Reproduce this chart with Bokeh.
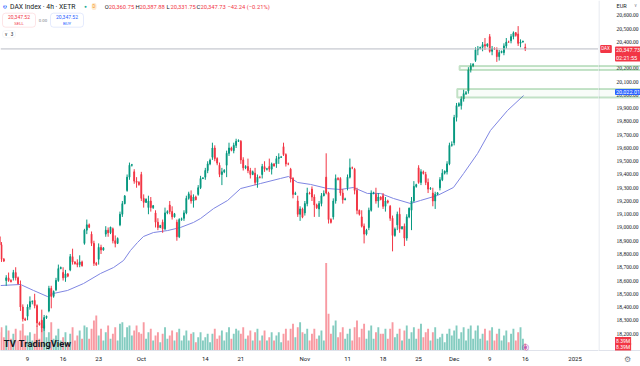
from bokeh.plotting import figure
from bokeh.layouts import row
from bokeh.models import (Range1d, LinearAxis, FixedTicker, Label, BoxAnnotation, Span,
                          ColumnDataSource)
from bokeh.embed import file_html
from bokeh.resources import INLINE

# ---------------- data (DAX Index, 4h bars, XETR) ----------------
# bar 0 = Sep 2 09:00; three 4h bars per trading day; first listed bar = Sep 3
FIRST_BAR = 3
opens = [
    18930, 18870, 18760,  18600, 18620, 18600,  18620, 18660, 18620,  18560, 18400, 18310,
    18330, 18400, 18440,  18450, 18410, 18280,  18300, 18240, 18320,  18370, 18540, 18480,  18530, 18600, 18690,
    18660, 18620, 18650,  18680, 18780, 18740,  18730, 18720, 18740,  18880, 18980, 19020,  18950, 18880, 18730,
    18760, 18850, 18830,  18950, 18980, 18960,  18990, 18900, 18880,  19020, 19100, 19180,  19280, 19380, 19470,
    19420, 19350, 19340,  19400, 19220, 19190,  19150, 19200, 19150,  19110, 19040, 19000,  19040, 18990, 19110,
    19170, 19120, 19080,  19040, 18930, 19060,  19070, 19110, 19220,  19240, 19200, 19230,  19250, 19300, 19370,
    19380, 19430, 19480,  19530, 19600, 19520,  19470, 19400, 19420,  19470, 19560, 19600,  19580, 19620, 19650,
    19650, 19510, 19450,  19460, 19430, 19400,  19410, 19340, 19380,  19400, 19460, 19440,  19460, 19440, 19480,
    19480, 19520, 19530,  19610, 19550, 19480,  19440, 19370, 19250,  19200, 19100, 19140,  19110, 19180, 19260,
    19290, 19230, 19170,  19140, 19180, 19240,  19380, 19260, 19060,  19080, 19200, 19370,  19370, 19260, 19210,
    19300, 19380, 19450,  19440, 19280, 19130,  19080, 19010, 18950,  19000, 19130, 19260,  19250, 19200, 19230,
    19240, 19160, 19200,  19160, 19070, 18940,  19020, 19100, 18990,  19010, 18920, 19080,  19130, 19200, 19310,
    19450, 19340, 19420,  19400, 19340, 19290,  19260, 19200, 19250,  19300, 19360, 19410,  19420, 19480, 19620,
    19640, 19830, 19920,  19920, 19970, 20010,  20030, 20190, 20220,  20260, 20340, 20350,  20360, 20380, 20370,
    20440, 20330, 20350,  20340, 20290, 20320,  20320, 20370, 20400,  20410, 20440, 20470,  20460, 20390, 20400,
    20360.75,
]
highs = [
    18950, 18890, 18770,  18640, 18660, 18610,  18680, 18700, 18630,  18600, 18420, 18320,
    18420, 18480, 18450,  18500, 18420, 18290,  18380, 18340, 18335,  18560, 18560, 18525,  18620, 18720, 18705,
    18700, 18680, 18655,  18800, 18840, 18745,  18760, 18790, 18750,  18990, 19060, 19030,  18970, 18900, 18740,
    18880, 18870, 18850,  19010, 19000, 19005,  19000, 18940, 18925,  19120, 19200, 19245,  19400, 19490, 19480,
    19440, 19380, 19350,  19420, 19250, 19220,  19240, 19230, 19170,  19130, 19070, 19020,  19060, 19150, 19130,
    19200, 19160, 19110,  19060, 19070, 19075,  19130, 19240, 19270,  19280, 19250, 19240,  19320, 19390, 19380,
    19450, 19500, 19520,  19640, 19620, 19530,  19490, 19450, 19440,  19580, 19640, 19610,  19640, 19670, 19665,
    19660, 19530, 19470,  19520, 19450, 19430,  19450, 19400, 19390,  19480, 19500, 19450,  19520, 19490, 19485,
    19540, 19560, 19540,  19640, 19560, 19490,  19450, 19380, 19270,  19240, 19160, 19150,  19200, 19300, 19270,
    19310, 19250, 19180,  19200, 19260, 19280,  19560, 19270, 19070,  19220, 19400, 19380,  19380, 19290, 19225,
    19400, 19520, 19460,  19450, 19300, 19135,  19130, 19030, 18990,  19150, 19280, 19270,  19300, 19260, 19235,
    19260, 19230, 19210,  19170, 19090, 19000,  19120, 19150, 19010,  19030, 19100, 19150,  19230, 19350, 19330,
    19470, 19440, 19430,  19420, 19370, 19305,  19300, 19270, 19265,  19380, 19440, 19430,  19500, 19640, 19650,
    19850, 19940, 19945,  19990, 20040, 20030,  20210, 20240, 20240,  20360, 20370, 20365,  20400, 20430, 20390,
    20460, 20370, 20360,  20360, 20340, 20335,  20390, 20430, 20410,  20460, 20480, 20475,  20520, 20420, 20410,
    20387.88,
]
lows = [
    18850, 18740, 18740,  18560, 18590, 18585,  18600, 18600, 18570,  18370, 18290, 18295,
    18300, 18380, 18420,  18390, 18250, 18260,  18210, 18220, 18310,  18360, 18390, 18470,  18520, 18590, 18685,
    18600, 18590, 18625,  18670, 18720, 18720,  18700, 18700, 18705,  18870, 18950, 18995,  18860, 18710, 18710,
    18720, 18800, 18825,  18930, 18930, 18950,  18880, 18850, 18875,  19010, 19080, 19175,  19270, 19360, 19460,
    19330, 19300, 19315,  19200, 19150, 19185,  19100, 19120, 19140,  19000, 18980, 18995,  18960, 18980, 19100,
    19100, 19060, 19075,  18900, 18920, 19050,  19050, 19100, 19210,  19180, 19150, 19205,  19240, 19290, 19365,
    19360, 19410, 19470,  19510, 19500, 19470,  19380, 19320, 19410,  19380, 19540, 19575,  19560, 19600, 19645,
    19480, 19430, 19440,  19410, 19370, 19395,  19320, 19300, 19370,  19370, 19420, 19430,  19420, 19400, 19460,
    19450, 19480, 19525,  19540, 19460, 19470,  19340, 19220, 19245,  19080, 19050, 19070,  19090, 19160, 19250,
    19200, 19080, 19140,  19080, 19160, 19235,  19250, 19030, 19030,  19060, 19180, 19355,  19240, 19180, 19205,
    19280, 19370, 19440,  19250, 19100, 19090,  19000, 18880, 18940,  18980, 19120, 19250,  19180, 19150, 19205,
    19140, 19120, 19180,  19050, 18820, 18930,  18980, 18960, 18985,  18860, 18900, 19070,  18980, 19190, 19300,
    19330, 19320, 19400,  19320, 19260, 19285,  19160, 19140, 19245,  19280, 19350, 19400,  19400, 19470, 19610,
    19620, 19800, 19910,  19890, 19950, 20000,  20010, 20170, 20210,  20250, 20300, 20345,  20330, 20340, 20360,
    20320, 20300, 20340,  20250, 20260, 20315,  20300, 20350, 20395,  20390, 20420, 20440,  20370, 20360, 20395,
    20331.75,
]
closes = [
    18870, 18760, 18747,  18620, 18600, 18592,  18660, 18620, 18576,  18400, 18310, 18301,
    18400, 18440, 18443,  18410, 18280, 18266,  18240, 18320, 18330,  18540, 18480, 18518,  18600, 18690, 18699,
    18620, 18650, 18633,  18780, 18740, 18727,  18720, 18740, 18711,  18980, 19020, 19002,  18880, 18730, 18720,
    18850, 18830, 18847,  18980, 18960, 19003,  18900, 18880, 18918,  19100, 19180, 19238,  19380, 19470, 19474,
    19350, 19340, 19325,  19220, 19190, 19213,  19200, 19150, 19164,  19040, 19000, 19015,  18990, 19110, 19121,
    19120, 19080, 19104,  18930, 19060, 19066,  19110, 19220, 19254,  19200, 19230, 19210,  19300, 19370, 19374,
    19430, 19480, 19508,  19600, 19520, 19486,  19400, 19420, 19432,  19560, 19600, 19583,  19620, 19650, 19657,
    19510, 19450, 19461,  19430, 19400, 19421,  19340, 19380, 19378,  19460, 19440, 19443,  19440, 19480, 19464,
    19520, 19530, 19532,  19550, 19480, 19479,  19370, 19250, 19258,  19100, 19140, 19078,  19180, 19260, 19255,
    19230, 19170, 19149,  19180, 19240, 19256,  19260, 19060, 19039,  19200, 19370, 19363,  19260, 19210, 19216,
    19380, 19450, 19449,  19280, 19130, 19100,  19010, 18950, 18980,  19130, 19260, 19264,  19200, 19230, 19211,
    19160, 19200, 19190,  19070, 18940, 18988,  19100, 18990, 19005,  18920, 19080, 19146,  19200, 19310, 19323,
    19340, 19420, 19407,  19340, 19290, 19295,  19200, 19250, 19262,  19360, 19410, 19426,  19480, 19620, 19626,
    19830, 19920, 19934,  19970, 20010, 20017,  20190, 20220, 20233,  20340, 20350, 20359,  20380, 20370, 20385,
    20330, 20350, 20346,  20290, 20320, 20330,  20370, 20400, 20399,  20440, 20470, 20450,  20390, 20400, 20406,
    20347.73,
]
volumes_m = [
    22, 28, 16,  30, 24, 14,  20, 26, 12,  24, 32, 18,
    18, 22, 12,  20, 30, 14,  26, 30, 16,  22, 34, 14,  18, 26, 12,
    16, 22, 10,  20, 28, 12,  18, 24, 14,  30, 28, 14,  26, 36, 42,
    18, 26, 12,  22, 30, 14,  20, 28, 12,  32, 34, 16,  28, 30, 18,
    24, 30, 22,  20, 34, 14,  22, 26, 12,  18, 22, 10,  20, 28, 14,
    18, 24, 12,  22, 26, 12,  18, 24, 12,  20, 22, 10,  16, 22, 12,
    16, 20, 10,  20, 26, 14,  18, 24, 12,  22, 28, 14,  20, 26, 24,
    20, 28, 14,  18, 24, 12,  22, 26, 12,  18, 24, 12,  16, 22, 12,
    18, 22, 10,  20, 26, 12,  26, 32, 16,  28, 34, 22,  20, 26, 12,
    20, 26, 14,  18, 24, 12,  105, 44, 20,  30, 36, 16,  22, 28, 14,
    20, 26, 12,  28, 36, 16,  26, 32, 14,  24, 30, 14,  22, 28, 20,
    20, 26, 14,  26, 34, 16,  20, 26, 12,  24, 30, 14,  22, 28, 14,
    26, 32, 16,  22, 26, 12,  22, 28, 14,  16, 20, 10,  20, 26, 18,
    24, 30, 14,  22, 28, 12,  26, 30, 14,  24, 30, 14,  20, 26, 12,
    24, 28, 12,  20, 26, 12,  18, 24, 10,  20, 26, 12,  22, 28, 14,
    8.39,
]
# moving average: (bar number, value)
ma_bar = [3.6, 12.0, 17.5, 23.4, 25.9, 31.9, 38.6, 45.8, 51.3, 55.5, 58.4, 61.4, 63.9, 68.1,
          74.1, 79.5, 85.0, 88.0, 93.5, 99.4, 104.9, 113.3, 121.7, 125.1, 128.9, 134.4,
          141.6, 147.0, 152.5, 158.4, 163.9, 169.4, 176.6, 180.8, 188.0, 194.7, 199.0,
          204.9, 210.3, 217.5, 224.3]
ma_val = [18562, 18570, 18525, 18479, 18502, 18525, 18577, 18653, 18698, 18751, 18826, 18887,
          18932, 18962, 18977, 19000, 19038, 19068, 19143, 19204, 19294, 19332, 19370, 19385,
          19340, 19325, 19294, 19287, 19302, 19257, 19257, 19219, 19181, 19204, 19242, 19302,
          19408, 19559, 19732, 19883, 19996]
date_ticks = [15, 30, 45, 63, 90, 105, 132, 150, 165, 180, 195, 210, 225, 246]
date_labels = ["9", "16", "23", "Oct", "14", "21", "Nov", "11", "18", "25", "Dec", "9", "16", "2025"]
price_ticks = [18200 + 100 * k for k in range(25)]
zone_top = [20219, 20045]
zone_bottom = [20189, 19981]
zone_left = [197.3, 196.3]
last_price = 20347.73
level_price = 20022.01
ohlc_text = ["20,360.75", "20,387.88", "20,331.75", "20,347.73"]
change_text = "\u221242.24 (\u22120.21%)"
bid_ask = "20,347.52"

# ---------------- main chart ----------------
UP, DOWN = "#089981", "#f23645"
VUP, VDOWN = "#84ccc0", "#f89aa2"
FONT = "Roboto"
SEP = "#e0e3eb"
GREEN = "#3fa34d"
X0, X1 = 3.586, 255.9
Y_BOT, Y_TOP = 18071.7, 20713.2
n = len(closes)
bar_x = [FIRST_BAR + k for k in range(n)]
is_up = [c >= o for o, c in zip(opens, closes)]
src = ColumnDataSource(dict(
    x=bar_x, h=highs, l=lows,
    top=[max(o, c) for o, c in zip(opens, closes)],
    bottom=[min(o, c) for o, c in zip(opens, closes)],
    color=[UP if u else DOWN for u in is_up],
    vol=volumes_m, vcolor=[VUP if u else VDOWN for u in is_up],
))

MAIN_W, H = 598, 366
FR_H = 350
p = figure(width=MAIN_W, height=H, x_range=Range1d(X0, X1), y_range=Range1d(Y_BOT, Y_TOP),
           output_backend="svg", toolbar_location=None, x_axis_location=None, y_axis_location=None,
           min_border_left=0, min_border_right=0, min_border_top=0, min_border_bottom=H - FR_H,
           background_fill_color="white", border_fill_color="white", outline_line_color=None)
p.grid.visible = False
p.extra_y_ranges = {"vol": Range1d(0, 420)}


def bottom_axis(fig, ticks, labels, size, color):
    ax = LinearAxis(ticker=FixedTicker(ticks=ticks),
                    major_label_overrides={t: s for t, s in zip(ticks, labels)})
    ax.major_label_text_font = FONT
    ax.major_label_text_font_size = size
    ax.major_label_text_color = color
    ax.major_tick_line_color = None
    ax.minor_tick_line_color = None
    ax.major_tick_out = 0
    ax.major_tick_in = 0
    ax.minor_tick_out = 0
    ax.minor_tick_in = 0
    ax.axis_line_color = SEP
    ax.major_label_standoff = 4
    fig.add_layout(ax, "below")


bottom_axis(p, date_ticks, date_labels, "6px", "#131722")

p.vbar(x="x", width=0.8, top="vol", bottom=0, source=src, y_range_name="vol",
       fill_color="vcolor", line_color=None)
p.add_layout(Span(location=last_price, dimension="width", line_color="#b8bbc4", line_width=1))
p.line(ma_bar, ma_val, line_color="#7f86e2", line_width=1)
p.segment(x0="x", y0="l", x1="x", y1="h", source=src, line_color="color", line_width=1)
p.vbar(x="x", width=0.35, top="top", bottom="bottom", source=src,
       fill_color="color", line_color="color", line_width=1)

for t, b, lft in zip(zone_top, zone_bottom, zone_left):
    p.add_layout(BoxAnnotation(left=lft, right=X1 + 5, top=t, bottom=b, fill_color="#4caf50",
                               fill_alpha=0.04, line_color=GREEN, line_width=2))


def lab(fig, x, y, text, size=6, color="#131722", align="left", baseline="middle", bold=False,
        yu="screen", bg=None, pad=0, radius=0, yoff=0):
    kw = dict(x=x, y=y, x_units="screen", y_units=yu, text=text, text_font=FONT,
              text_font_size=f"{size}px", text_color=color, text_align=align,
              text_baseline=baseline, y_offset=yoff)
    if bold:
        kw["text_font_style"] = "bold"
    if bg is not None:
        kw.update(background_fill_color=bg, padding=pad, border_radius=radius)
    fig.add_layout(Label(**kw))


def sy(page_y):  # page y -> screen y measured from the frame bottom
    return FR_H - page_y


# header
lab(p, 4.5, sy(6), "\u25cf", size=8, color="#2962ff", align="center")
lab(p, 4.5, sy(6), "X", size=4, color="white", align="center", bold=True)
lab(p, 9.5, sy(6), "DAX Index \u00b7 4h \u00b7 XETR", size=6.8)
lab(p, 85, sy(6), "\u25cf", size=4.5, color="#22ab94", align="center")
lab(p, 93.5, sy(6), "D", size=4.5, color="#f7931a", align="center", bg="#fdebd0", pad=1, radius=2)
for g, letter, val in zip([104.3, 135, 166, 196], ["O", "H", "L", "C"], ohlc_text):
    lab(p, g, sy(6), letter, size=5.8, color="#131722")
    lab(p, g + 3.9, sy(6), val, size=5.8, color="#f23645")
lab(p, 227, sy(6), change_text, size=5.8, color="#f23645")

for l_, r_, t_, b_, lc in [(2, 35, 12.7, 26.7, "#f7a8ae"), (50, 83, 12.7, 26.7, "#a9bdfa"),
                           (2, 15, 30, 37.3, SEP)]:
    p.add_layout(BoxAnnotation(left=l_, right=r_, top=sy(t_), bottom=sy(b_),
                               left_units="screen", right_units="screen", top_units="screen",
                               bottom_units="screen", fill_color="white", fill_alpha=1,
                               line_color=lc, line_width=1, border_radius=3))
lab(p, 18.5, sy(16.8), bid_ask, size=5, color="#f23645", align="center")
lab(p, 18.5, sy(23), "SELL", size=4.3, color="#f23645", align="center")
lab(p, 42.5, sy(19.5), "0.00", size=4.3, color="#787b86", align="center")
lab(p, 66.5, sy(16.8), bid_ask, size=5, color="#2962ff", align="center")
lab(p, 66.5, sy(23), "BUY", size=4.3, color="#2962ff", align="center")
lab(p, 5.5, sy(33.5), "v", size=4.5, color="#131722", align="center")
lab(p, 11.5, sy(33.7), "3", size=4.5, color="#131722", align="center")

lab(p, 3.3, sy(342.5), "TV", size=9.3, color="#131722", bold=True)
lab(p, 18.3, sy(342.5), "TradingView", size=9.3, color="#131722", bold=True)
lab(p, 524.5, sy(347), "\u24d4", size=6.5, color="#9c27b0", align="center")

# ---------------- price scale (right strip, same frame height and price range) ----------------
SCALE_W = 640 - MAIN_W
s = figure(width=SCALE_W, height=H, x_range=Range1d(0, SCALE_W), y_range=Range1d(Y_BOT, Y_TOP),
           output_backend="svg", toolbar_location=None, x_axis_location=None, y_axis_location=None,
           min_border_left=0, min_border_right=0, min_border_top=0, min_border_bottom=H - FR_H,
           background_fill_color="white", border_fill_color="white", outline_line_color=None)
s.grid.visible = False
s.add_layout(Span(location=0.5, dimension="height", line_color=SEP, line_width=1))
bottom_axis(s, [29], ["\u2699"], "7.5px", "#787b86")
s.text(x=18, y=price_ticks, text=[f"{t:,.2f}" for t in price_ticks], text_font=FONT,
       text_font_size="5.5px", text_color="#131722", text_align="left", text_baseline="middle")
for t, b in zip(zone_top, zone_bottom):
    s.add_layout(BoxAnnotation(left=-5, right=SCALE_W + 5, top=t, bottom=b, fill_color="#4caf50",
                               fill_alpha=0.04, line_color=GREEN, line_width=2))

lab(s, 18, sy(5), "EUR", size=5.5, color="#131722")
lab(s, 37, sy(5), "v", size=4.5, color="#787b86", align="center")
lab(s, 7.5, last_price, "DAX", size=4.5, color="white", align="center", yu="data",
    bg="#f23645", pad=(1, 2, 1, 2), radius=1)
lab(s, 16.5, last_price, "20,347.73\n02:21:55", size=5.5, color="white", align="left",
    baseline="top", yu="data", bg="#f23645", pad=1, radius=1, yoff=2.5)
lab(s, 16.5, level_price, "20,022.01", size=5.5, color="white", align="left", yu="data",
    bg="#2962ff", pad=1, radius=1)
lab(s, 16.5, sy(340.5), "8.39M", size=5, color="white", bg="#f23645", pad=1)
lab(s, 16.5, sy(346.5), "8.39M", size=5, color="white", bg="#f23645", pad=1)

layout = row(p, s)
open("out.html", "w").write(file_html(layout, INLINE))
